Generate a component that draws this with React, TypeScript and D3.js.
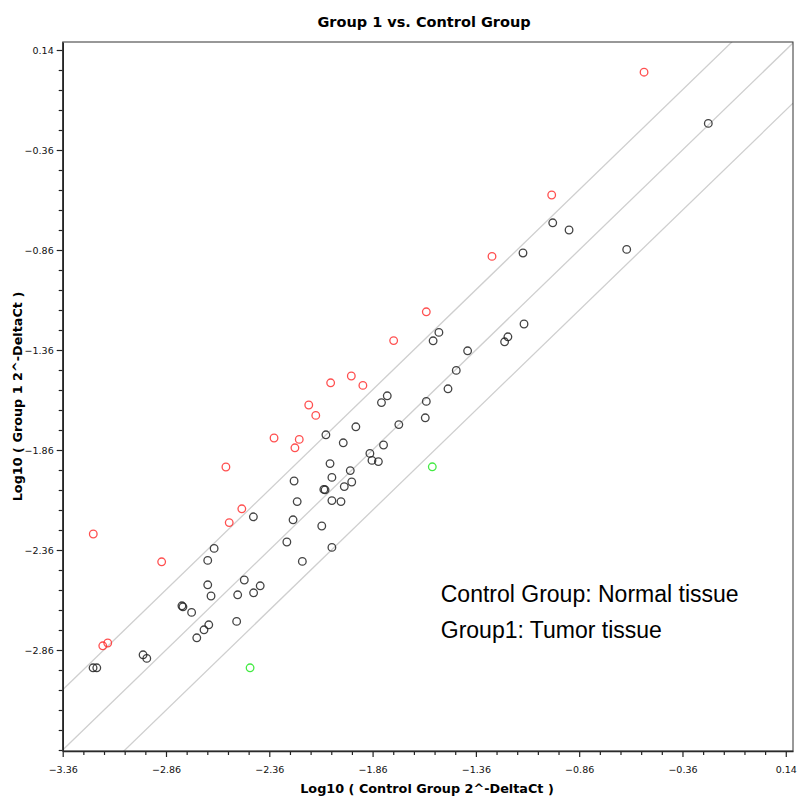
import React, { useRef, useEffect } from "react";
import * as d3 from "d3";

// log10(2^-DeltaCt) values: [control group, group 1]
const upRegulated: [number, number][] = [
  [-0.546, 0.029], [-0.993, -0.585], [-1.282, -0.892], [-1.600, -1.169],
  [-1.758, -1.313], [-1.963, -1.49], [-2.063, -1.524], [-1.907, -1.537],
  [-2.169, -1.635], [-2.135, -1.687], [-2.337, -1.80], [-2.215, -1.807],
  [-2.236, -1.849], [-2.570, -1.945], [-2.493, -2.154], [-2.554, -2.223],
  [-3.212, -2.28], [-2.881, -2.419], [-3.142, -2.825], [-3.166, -2.839],
];

const downRegulated: [number, number][] = [
  [-1.571, -1.944], [-2.453, -2.949],
];

const unchanged: [number, number][] = [
  [-0.235, -0.227], [-0.988, -0.724], [-0.909, -0.76], [-1.132, -0.875],
  [-0.630, -0.857], [-1.539, -1.272], [-1.567, -1.314], [-1.127, -1.23],
  [-1.205, -1.294], [-1.221, -1.319], [-1.400, -1.364], [-1.455, -1.462],
  [-1.495, -1.554], [-1.789, -1.589], [-1.817, -1.623], [-1.600, -1.617],
  [-1.605, -1.699], [-1.733, -1.733], [-1.941, -1.744], [-2.086, -1.784],
  [-2.002, -1.824], [-1.807, -1.835], [-1.873, -1.877], [-1.863, -1.912],
  [-1.832, -1.918], [-2.066, -1.928], [-1.968, -1.963], [-2.057, -1.997],
  [-1.961, -2.02], [-2.240, -2.015], [-1.997, -2.043], [-2.096, -2.057],
  [-2.090, -2.059], [-2.225, -2.118], [-2.057, -2.113], [-2.013, -2.118],
  [-2.437, -2.194], [-2.245, -2.209], [-2.106, -2.24], [-2.275, -2.32],
  [-2.627, -2.352], [-2.057, -2.347], [-2.658, -2.412], [-2.200, -2.417],
  [-2.404, -2.539], [-2.481, -2.51], [-2.658, -2.534], [-2.436, -2.574],
  [-2.513, -2.584], [-2.642, -2.59], [-2.783, -2.639], [-2.778, -2.644],
  [-2.736, -2.672], [-2.518, -2.717], [-2.653, -2.734], [-2.676, -2.759],
  [-2.711, -2.799], [-2.971, -2.884], [-2.953, -2.902], [-3.213, -2.949],
  [-3.195, -2.949],
];

const xMajorTicks = [-3.36, -2.86, -2.36, -1.86, -1.36, -0.86, -0.36, 0.14];
const yMajorTicks = [-2.86, -2.36, -1.86, -1.36, -0.86, -0.36, 0.14];
const foldLines = [Math.log10(2), 0, -Math.log10(2)];
const noteLines = ["Control Group: Normal tissue", "Group1: Tumor tissue"];

export default function App() {
  const svgRef = useRef<SVGSVGElement>(null);

  useEffect(() => {
    const W = 797, H = 796;
    const margin = { top: 42, right: 4, bottom: 45, left: 62.7 };
    const width = W - margin.left - margin.right;
    const height = H - margin.top - margin.bottom;

    const svg = d3.select(svgRef.current).attr("width", W).attr("height", H);
    svg.selectAll("*").remove();

    const x = d3.scaleLinear().domain([-3.36, 0.175]).range([0, width]);
    const y = d3.scaleLinear().domain([-3.365, 0.18]).range([height, 0]);

    const g = svg.append("g").attr("transform", `translate(${margin.left},${margin.top})`);

    g.append("clipPath").attr("id", "plot-clip")
      .append("rect").attr("width", width).attr("height", height);

    // fold-change guide lines
    const [x0, x1] = x.domain();
    g.append("g").attr("clip-path", "url(#plot-clip)")
      .selectAll("line").data(foldLines).join("line")
        .attr("x1", x(x0)).attr("y1", d => y(x0 + d))
        .attr("x2", x(x1)).attr("y2", d => y(x1 + d))
        .attr("stroke", "#cfcfcf").attr("stroke-width", 1.3);

    const allTicks = d3.range(0, 36).map(i => -3.36 + i * 0.1);
    const notIn = (list: number[]) => (v: number) => !list.some(m => Math.abs(m - v) < 1e-6);

    // axes
    const xAxis = g.append("g").attr("transform", `translate(0,${height})`);
    xAxis.call(d3.axisBottom(x).tickValues(xMajorTicks).tickFormat(d3.format(".2f")).tickSize(6).tickSizeOuter(0));
    xAxis.append("g").call(d3.axisBottom(x).tickValues(allTicks.filter(notIn(xMajorTicks))).tickFormat(() => "").tickSize(4).tickSizeOuter(0))
      .select(".domain").remove();

    const yAxis = g.append("g");
    yAxis.call(d3.axisLeft(y).tickValues(yMajorTicks).tickFormat(d3.format(".2f")).tickSize(6).tickSizeOuter(0));
    yAxis.append("g").call(d3.axisLeft(y).tickValues(allTicks.filter(notIn(yMajorTicks))).tickFormat(() => "").tickSize(4).tickSizeOuter(0))
      .select(".domain").remove();

    svg.selectAll(".tick text").attr("font-family", "DejaVu Sans, sans-serif").attr("font-size", 9.5).attr("fill", "#111");
    xAxis.selectAll(".tick text").attr("dy", "1.35em");
    svg.selectAll(".domain").attr("stroke", "#222").attr("stroke-width", 1.6);
    svg.selectAll(".tick line").attr("stroke", "#222").attr("stroke-width", 1.2);

    // frame top/right
    g.append("rect").attr("width", width).attr("height", height)
      .attr("fill", "none").attr("stroke", "#333").attr("stroke-width", 1);

    // points
    const groups = [
      { data: unchanged, color: "#222" },
      { data: upRegulated, color: "#ff3030" },
      { data: downRegulated, color: "#22e622" },
    ];
    groups.forEach(grp => {
      g.append("g").selectAll("circle").data(grp.data).join("circle")
        .attr("cx", d => x(d[0])).attr("cy", d => y(d[1])).attr("r", 3.8)
        .attr("fill", "none").attr("stroke", grp.color).attr("stroke-width", 1.3)
        .attr("stroke-opacity", 0.85);
    });

    // annotation
    g.append("g").selectAll("text").data(noteLines).join("text")
      .attr("x", x(-1.53)).attr("y", (d, i) => y(-2.62) + i * 36)
      .attr("font-family", "Liberation Sans, Arial, sans-serif").attr("font-size", 23).attr("fill", "#000")
      .text(d => d);

    // titles
    svg.append("text").attr("x", 424).attr("y", 27).attr("text-anchor", "middle")
      .attr("font-family", "DejaVu Sans, sans-serif").attr("font-weight", "bold").attr("font-size", 14.5)
      .text("Group 1 vs. Control Group");
    svg.append("text").attr("x", 427).attr("y", 793).attr("text-anchor", "middle")
      .attr("font-family", "DejaVu Sans, sans-serif").attr("font-weight", "bold").attr("font-size", 12.8)
      .text("Log10 ( Control Group 2^-DeltaCt )");
    svg.append("text").attr("transform", `translate(22,${margin.top + height / 2}) rotate(-90)`).attr("text-anchor", "middle")
      .attr("font-family", "DejaVu Sans, sans-serif").attr("font-weight", "bold").attr("font-size", 12.8)
      .text("Log10 ( Group 1 2^-DeltaCt )");
  }, []);

  return (
    <div style={{ position: "absolute", left: 0, top: 0, background: "#fff" }}>
      <svg ref={svgRef} />
    </div>
  );
}
